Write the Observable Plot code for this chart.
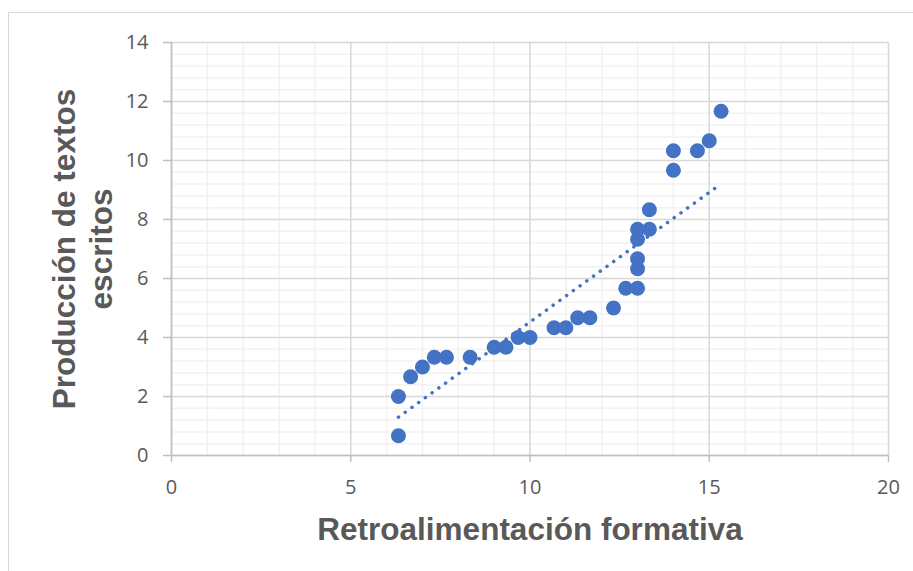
<!DOCTYPE html>
<html>
<head>
<meta charset="utf-8">
<script src="https://cdn.jsdelivr.net/npm/d3@7"></script>
<script src="https://cdn.jsdelivr.net/npm/@observablehq/plot@0.6"></script>
<style>
html, body { margin: 0; padding: 0; background: #fff; }
#wrap { position: relative; width: 913px; height: 571px; overflow: hidden; }
#box { position: absolute; left: 8px; top: 12px; width: 1200px; height: 1200px; border: 1px solid #d9d9d9; box-sizing: border-box; }
#chart { position: absolute; left: 0; top: 0; }
</style>
</head>
<body>
<div id="wrap"><div id="box"></div><div id="chart"></div></div>
<script>
// Data
const xValues = [6.33, 6.33, 6.67, 7, 7.33, 7.67, 8.33, 9, 9.33, 9.67, 10, 10.67, 11, 11.33, 11.67, 12.33, 12.67, 13, 13, 13, 13, 13, 13.33, 13.33, 14, 14, 14.67, 15, 15.33];
const yValues = [2, 0.67, 2.67, 3, 3.33, 3.33, 3.33, 3.67, 3.67, 4, 4, 4.33, 4.33, 4.67, 4.67, 5, 5.67, 5.67, 6.33, 6.67, 7.33, 7.67, 7.67, 8.33, 9.67, 10.33, 10.33, 10.67, 11.67];
// Linear trendline as drawn in the reference (end points)
const trendX = [6.33, 15.33];
const trendY = [1.30, 9.21];
const xTicks = [0, 5, 10, 15, 20];
const yTicks = [0, 2, 4, 6, 8, 10, 12, 14];
const xTitle = "Retroalimentación formativa";
const yTitle = "Producción de textos\nescritos";

const points = xValues.map((x, i) => ({x, y: yValues[i]}));
const trend = trendX.map((x, i) => ({x, y: trendY[i]}));
const xMinor = d3.range(0, 21).map(i => i);
const yMinor = d3.range(0, 36).map(i => +(i * 0.4).toFixed(2));

const blue = "#4472C4";
const textGray = "#595959";

const chart = Plot.plot({
  width: 913,
  height: 571,
  marginLeft: 171,
  marginRight: 25,
  marginTop: 42,
  marginBottom: 116,
  x: {domain: [0, 20]},
  y: {domain: [0, 14]},
  style: {fontFamily: "'Open Sans', sans-serif", background: "transparent", overflow: "visible"},
  marks: [
    Plot.gridX(xMinor, {stroke: "#f2f2f2", strokeOpacity: 1, strokeWidth: 1.5}),
    Plot.gridY(yMinor, {stroke: "#f2f2f2", strokeOpacity: 1, strokeWidth: 1.5}),
    Plot.gridX(xTicks, {stroke: "#d9d9d9", strokeOpacity: 1, strokeWidth: 1.5}),
    Plot.gridY(yTicks, {stroke: "#d9d9d9", strokeOpacity: 1, strokeWidth: 1.5}),
    Plot.ruleX([0], {stroke: "#bfbfbf", strokeWidth: 1.5}),
    Plot.ruleY([0], {stroke: "#bfbfbf", strokeWidth: 1.5}),
    Plot.axisX(xTicks, {tickSize: 7, tickPadding: 17, fontSize: 20, stroke: "#bfbfbf", strokeWidth: 1.5, fill: textGray, label: null}),
    Plot.axisY(yTicks, {tickSize: 8, tickPadding: 15, fontSize: 20, stroke: "#bfbfbf", strokeWidth: 1.5, fill: textGray, label: null}),
    Plot.line(trend, {x: "x", y: "y", stroke: blue, strokeWidth: 3.5, strokeDasharray: "0.1 8.2", strokeLinecap: "round"}),
    Plot.dot(points, {x: "x", y: "y", r: 7.5, fill: blue}),
    Plot.text([xTitle], {frameAnchor: "bottom", dy: 74, textAnchor: "middle", lineAnchor: "middle", fontSize: 31.5, fontWeight: "bold", fontFamily: "'Liberation Sans', Arial, sans-serif", fill: textGray}),
    Plot.text([yTitle], {frameAnchor: "left", dx: -89.5, rotate: -90, textAnchor: "middle", lineAnchor: "middle", lineHeight: 1.17, fontSize: 31.5, fontWeight: "bold", fontFamily: "'Liberation Sans', Arial, sans-serif", fill: textGray})
  ]
});
document.getElementById("chart").appendChild(chart);
</script>
</body>
</html>
